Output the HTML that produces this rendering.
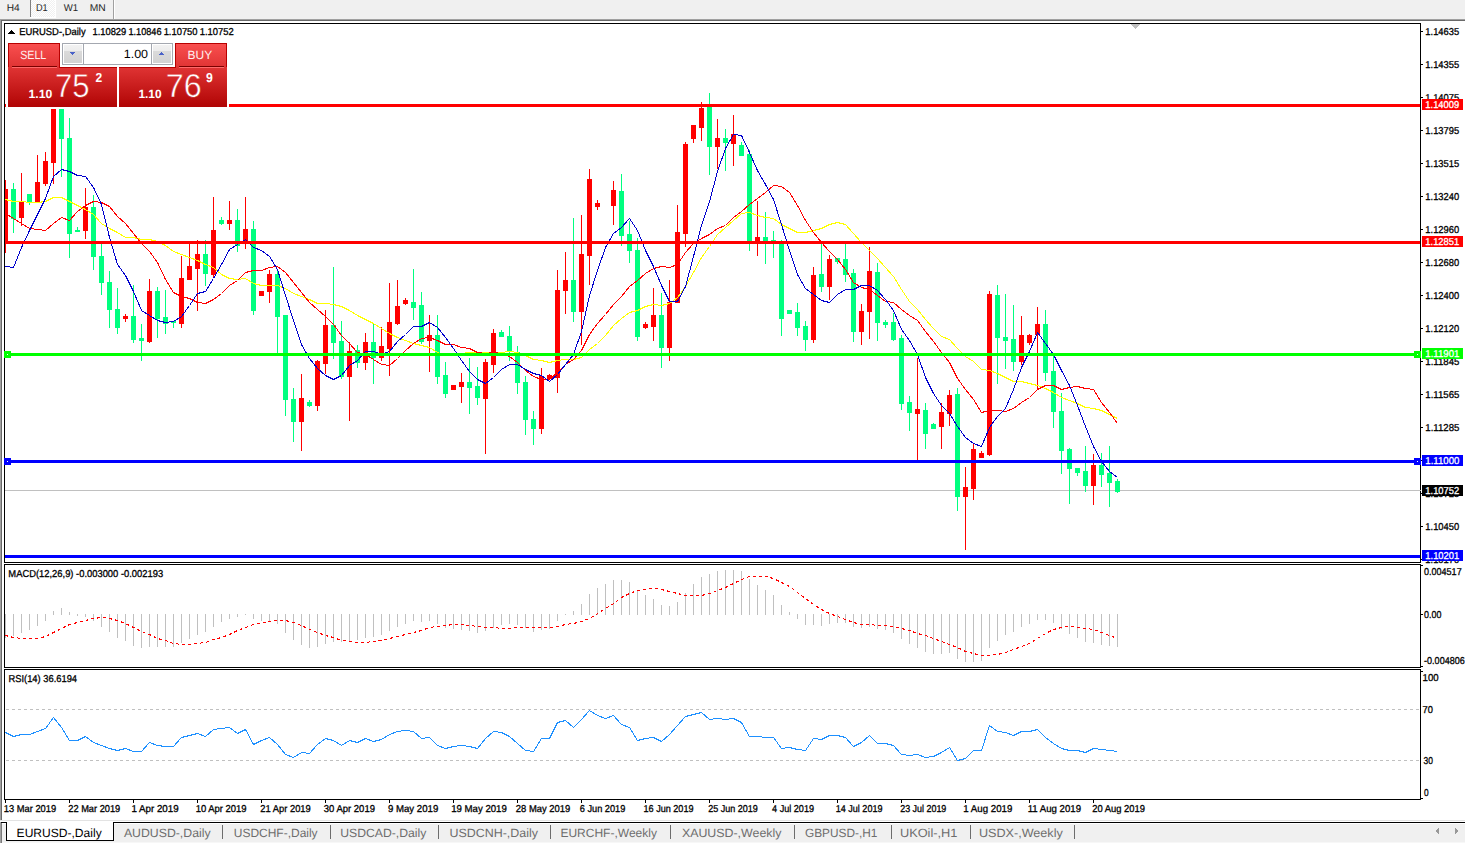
<!DOCTYPE html>
<html><head><meta charset="utf-8"><title>EURUSD-,Daily</title>
<style>html,body{margin:0;padding:0;background:#f0f0f0;overflow:hidden}svg{display:block}text{font-family:"Liberation Sans", sans-serif;text-rendering:geometricPrecision}</style>
</head><body>
<svg width="1465" height="843" viewBox="0 0 1465 843" shape-rendering="crispEdges">
<defs>
<pattern id="chk" width="2" height="2" patternUnits="userSpaceOnUse"><rect width="2" height="2" fill="#f0f0f0"/><rect width="1" height="1" fill="#fff"/><rect x="1" y="1" width="1" height="1" fill="#fff"/></pattern>
<linearGradient id="gLow" x1="0" y1="0" x2="0" y2="1"><stop offset="0" stop-color="#e03434"/><stop offset="1" stop-color="#b00404"/></linearGradient>
<linearGradient id="gLowU" gradientUnits="userSpaceOnUse" x1="0" y1="67" x2="0" y2="107"><stop offset="0" stop-color="#e03434"/><stop offset="1" stop-color="#b00404"/></linearGradient>
<linearGradient id="gUp" x1="0" y1="0" x2="0" y2="1"><stop offset="0" stop-color="#fa5050"/><stop offset="1" stop-color="#e03434"/></linearGradient>
<linearGradient id="gBtn" x1="0" y1="0" x2="0" y2="1"><stop offset="0" stop-color="#f2f2f2"/><stop offset="0.35" stop-color="#ececec"/><stop offset="0.36" stop-color="#dadada"/><stop offset="1" stop-color="#d2d2d2"/></linearGradient>
<clipPath id="cmain"><rect x="5" y="24" width="1415" height="538"/></clipPath>
<clipPath id="cmacd"><rect x="5" y="565" width="1415" height="102"/></clipPath>
<clipPath id="crsi"><rect x="5" y="670" width="1415" height="129"/></clipPath>
</defs>
<rect x="0" y="0" width="1465" height="843" fill="#f0f0f0"/>
<rect x="31" y="0" width="24" height="17" fill="url(#chk)"/>
<rect x="30" y="0" width="1" height="17" fill="#808080"/>
<rect x="55" y="0" width="1" height="18" fill="#ffffff"/>
<rect x="30" y="17" width="26" height="1" fill="#ffffff"/>
<rect x="113" y="0" width="1" height="19" fill="#a0a0a0"/>
<rect x="114" y="0" width="1" height="19" fill="#ffffff"/>
<rect x="0" y="19" width="1465" height="1" fill="#a0a0a0"/>
<rect x="1" y="20" width="1464" height="1" fill="#696969"/>
<rect x="0" y="19" width="1" height="801" fill="#a0a0a0"/>
<rect x="1" y="20" width="1" height="800" fill="#696969"/>
<rect x="2" y="21" width="1463" height="799" fill="#ffffff"/>
<rect x="0" y="820" width="1465" height="1" fill="#e3e3e3"/>
<rect x="0" y="821" width="1465" height="1" fill="#ffffff"/>
<rect x="0" y="822" width="1465" height="1" fill="#000000"/>
<rect x="0" y="823" width="1465" height="1" fill="#ffffff"/>
<rect x="0" y="824" width="1465" height="18" fill="#f0f0f0"/>
<rect x="0" y="842" width="1465" height="1" fill="#f7f7f7"/>
<rect x="0" y="822" width="1" height="21" fill="#a0a0a0"/>
<rect x="1" y="823" width="1" height="20" fill="#7a7a7a"/>
<text x="6.78" y="11" font-size="10" fill="#262626" textLength="13.01" lengthAdjust="spacingAndGlyphs">H4</text>
<text x="35.98" y="11" font-size="10" fill="#262626" textLength="11.73" lengthAdjust="spacingAndGlyphs">D1</text>
<text x="63.80" y="11" font-size="10" fill="#262626" textLength="14.40" lengthAdjust="spacingAndGlyphs">W1</text>
<text x="89.77" y="11" font-size="10" fill="#262626" textLength="16.01" lengthAdjust="spacingAndGlyphs">MN</text>
<rect x="4" y="23" width="1417" height="1" fill="#000"/>
<rect x="4" y="562" width="1417" height="1" fill="#000"/>
<rect x="4" y="23" width="1" height="540" fill="#000"/>
<rect x="1420" y="23" width="1" height="540" fill="#000"/>
<rect x="4" y="564" width="1417" height="1" fill="#000"/>
<rect x="4" y="667" width="1417" height="1" fill="#000"/>
<rect x="4" y="564" width="1" height="104" fill="#000"/>
<rect x="1420" y="564" width="1" height="104" fill="#000"/>
<rect x="4" y="669" width="1417" height="1" fill="#000"/>
<rect x="4" y="799" width="1417" height="1" fill="#000"/>
<rect x="4" y="669" width="1" height="131" fill="#000"/>
<rect x="1420" y="669" width="1" height="131" fill="#000"/>
<rect x="1131" y="24" width="9" height="1" fill="#c0c0c0"/>
<rect x="1132" y="25" width="7" height="1" fill="#c0c0c0"/>
<rect x="1133" y="26" width="5" height="1" fill="#c0c0c0"/>
<rect x="1134" y="27" width="3" height="1" fill="#c0c0c0"/>
<rect x="1135" y="28" width="1" height="1" fill="#c0c0c0"/>
<g clip-path="url(#cmain)">
<rect x="5" y="490" width="1415" height="1" fill="#c0c0c0"/>
<rect x="5" y="180" width="1" height="73" fill="#ff0000"/>
<rect x="3" y="189" width="5" height="53" fill="#ff0000"/>
<rect x="13" y="183" width="1" height="50" fill="#00ff7f"/>
<rect x="11" y="189" width="5" height="30" fill="#00ff7f"/>
<rect x="21" y="173" width="1" height="53" fill="#ff0000"/>
<rect x="19" y="202" width="5" height="16" fill="#ff0000"/>
<rect x="29" y="194" width="1" height="11" fill="#00ff7f"/>
<rect x="27" y="194" width="5" height="9" fill="#00ff7f"/>
<rect x="37" y="155" width="1" height="48" fill="#ff0000"/>
<rect x="35" y="182" width="5" height="21" fill="#ff0000"/>
<rect x="45" y="152" width="1" height="34" fill="#ff0000"/>
<rect x="43" y="161" width="5" height="23" fill="#ff0000"/>
<rect x="53" y="82" width="1" height="102" fill="#ff0000"/>
<rect x="51" y="86" width="5" height="77" fill="#ff0000"/>
<rect x="61" y="49" width="1" height="128" fill="#00ff7f"/>
<rect x="59" y="86" width="5" height="53" fill="#00ff7f"/>
<rect x="69" y="118" width="1" height="140" fill="#00ff7f"/>
<rect x="67" y="138" width="5" height="96" fill="#00ff7f"/>
<rect x="77" y="227" width="1" height="5" fill="#00ff7f"/>
<rect x="75" y="230" width="5" height="2" fill="#00ff7f"/>
<rect x="85" y="188" width="1" height="51" fill="#ff0000"/>
<rect x="83" y="207" width="5" height="24" fill="#ff0000"/>
<rect x="93" y="195" width="1" height="75" fill="#00ff7f"/>
<rect x="91" y="207" width="5" height="50" fill="#00ff7f"/>
<rect x="101" y="243" width="1" height="52" fill="#00ff7f"/>
<rect x="99" y="256" width="5" height="27" fill="#00ff7f"/>
<rect x="109" y="271" width="1" height="57" fill="#00ff7f"/>
<rect x="107" y="282" width="5" height="28" fill="#00ff7f"/>
<rect x="117" y="288" width="1" height="46" fill="#00ff7f"/>
<rect x="115" y="309" width="5" height="19" fill="#00ff7f"/>
<rect x="125" y="314" width="1" height="8" fill="#ff0000"/>
<rect x="123" y="316" width="5" height="3" fill="#ff0000"/>
<rect x="133" y="285" width="1" height="58" fill="#00ff7f"/>
<rect x="131" y="316" width="5" height="24" fill="#00ff7f"/>
<rect x="141" y="324" width="1" height="37" fill="#00ff7f"/>
<rect x="139" y="338" width="5" height="3" fill="#00ff7f"/>
<rect x="149" y="279" width="1" height="64" fill="#ff0000"/>
<rect x="147" y="291" width="5" height="51" fill="#ff0000"/>
<rect x="157" y="287" width="1" height="51" fill="#00ff7f"/>
<rect x="155" y="291" width="5" height="28" fill="#00ff7f"/>
<rect x="165" y="290" width="1" height="44" fill="#00ff7f"/>
<rect x="163" y="317" width="5" height="7" fill="#00ff7f"/>
<rect x="173" y="321" width="1" height="7" fill="#00ff7f"/>
<rect x="171" y="321" width="5" height="2" fill="#00ff7f"/>
<rect x="181" y="256" width="1" height="72" fill="#ff0000"/>
<rect x="179" y="278" width="5" height="46" fill="#ff0000"/>
<rect x="189" y="243" width="1" height="37" fill="#ff0000"/>
<rect x="187" y="266" width="5" height="14" fill="#ff0000"/>
<rect x="197" y="240" width="1" height="71" fill="#ff0000"/>
<rect x="195" y="254" width="5" height="15" fill="#ff0000"/>
<rect x="205" y="240" width="1" height="46" fill="#00ff7f"/>
<rect x="203" y="254" width="5" height="20" fill="#00ff7f"/>
<rect x="213" y="197" width="1" height="80" fill="#ff0000"/>
<rect x="211" y="230" width="5" height="45" fill="#ff0000"/>
<rect x="221" y="217" width="1" height="8" fill="#00ff7f"/>
<rect x="219" y="220" width="5" height="4" fill="#00ff7f"/>
<rect x="229" y="201" width="1" height="29" fill="#ff0000"/>
<rect x="227" y="220" width="5" height="4" fill="#ff0000"/>
<rect x="237" y="209" width="1" height="43" fill="#00ff7f"/>
<rect x="235" y="220" width="5" height="26" fill="#00ff7f"/>
<rect x="245" y="197" width="1" height="52" fill="#ff0000"/>
<rect x="243" y="229" width="5" height="13" fill="#ff0000"/>
<rect x="253" y="221" width="1" height="94" fill="#00ff7f"/>
<rect x="251" y="229" width="5" height="82" fill="#00ff7f"/>
<rect x="261" y="291" width="1" height="5" fill="#ff0000"/>
<rect x="259" y="291" width="5" height="5" fill="#ff0000"/>
<rect x="269" y="270" width="1" height="33" fill="#ff0000"/>
<rect x="267" y="274" width="5" height="18" fill="#ff0000"/>
<rect x="277" y="270" width="1" height="83" fill="#00ff7f"/>
<rect x="275" y="274" width="5" height="43" fill="#00ff7f"/>
<rect x="285" y="315" width="1" height="101" fill="#00ff7f"/>
<rect x="283" y="315" width="5" height="85" fill="#00ff7f"/>
<rect x="293" y="388" width="1" height="54" fill="#00ff7f"/>
<rect x="291" y="399" width="5" height="23" fill="#00ff7f"/>
<rect x="301" y="374" width="1" height="77" fill="#ff0000"/>
<rect x="299" y="398" width="5" height="24" fill="#ff0000"/>
<rect x="309" y="400" width="1" height="7" fill="#00ff7f"/>
<rect x="307" y="402" width="5" height="4" fill="#00ff7f"/>
<rect x="317" y="360" width="1" height="51" fill="#ff0000"/>
<rect x="315" y="361" width="5" height="45" fill="#ff0000"/>
<rect x="325" y="310" width="1" height="64" fill="#ff0000"/>
<rect x="323" y="325" width="5" height="39" fill="#ff0000"/>
<rect x="333" y="267" width="1" height="92" fill="#00ff7f"/>
<rect x="331" y="325" width="5" height="18" fill="#00ff7f"/>
<rect x="341" y="321" width="1" height="58" fill="#00ff7f"/>
<rect x="339" y="341" width="5" height="36" fill="#00ff7f"/>
<rect x="349" y="342" width="1" height="79" fill="#ff0000"/>
<rect x="347" y="351" width="5" height="26" fill="#ff0000"/>
<rect x="357" y="345" width="1" height="23" fill="#00ff7f"/>
<rect x="355" y="350" width="5" height="13" fill="#00ff7f"/>
<rect x="365" y="333" width="1" height="37" fill="#ff0000"/>
<rect x="363" y="342" width="5" height="21" fill="#ff0000"/>
<rect x="373" y="323" width="1" height="61" fill="#00ff7f"/>
<rect x="371" y="342" width="5" height="16" fill="#00ff7f"/>
<rect x="381" y="327" width="1" height="34" fill="#ff0000"/>
<rect x="379" y="346" width="5" height="12" fill="#ff0000"/>
<rect x="389" y="283" width="1" height="93" fill="#ff0000"/>
<rect x="387" y="322" width="5" height="27" fill="#ff0000"/>
<rect x="397" y="280" width="1" height="45" fill="#ff0000"/>
<rect x="395" y="306" width="5" height="18" fill="#ff0000"/>
<rect x="405" y="298" width="1" height="7" fill="#ff0000"/>
<rect x="403" y="300" width="5" height="4" fill="#ff0000"/>
<rect x="413" y="269" width="1" height="51" fill="#00ff7f"/>
<rect x="411" y="302" width="5" height="6" fill="#00ff7f"/>
<rect x="421" y="292" width="1" height="52" fill="#00ff7f"/>
<rect x="419" y="305" width="5" height="37" fill="#00ff7f"/>
<rect x="429" y="315" width="1" height="57" fill="#ff0000"/>
<rect x="427" y="335" width="5" height="6" fill="#ff0000"/>
<rect x="437" y="315" width="1" height="69" fill="#00ff7f"/>
<rect x="435" y="335" width="5" height="42" fill="#00ff7f"/>
<rect x="445" y="362" width="1" height="36" fill="#00ff7f"/>
<rect x="443" y="375" width="5" height="19" fill="#00ff7f"/>
<rect x="453" y="385" width="1" height="5" fill="#ff0000"/>
<rect x="451" y="385" width="5" height="5" fill="#ff0000"/>
<rect x="461" y="373" width="1" height="30" fill="#ff0000"/>
<rect x="459" y="382" width="5" height="5" fill="#ff0000"/>
<rect x="469" y="358" width="1" height="56" fill="#00ff7f"/>
<rect x="467" y="382" width="5" height="6" fill="#00ff7f"/>
<rect x="477" y="367" width="1" height="38" fill="#00ff7f"/>
<rect x="475" y="386" width="5" height="12" fill="#00ff7f"/>
<rect x="485" y="359" width="1" height="95" fill="#ff0000"/>
<rect x="483" y="362" width="5" height="37" fill="#ff0000"/>
<rect x="493" y="329" width="1" height="44" fill="#ff0000"/>
<rect x="491" y="333" width="5" height="32" fill="#ff0000"/>
<rect x="501" y="330" width="1" height="7" fill="#00ff7f"/>
<rect x="499" y="332" width="5" height="5" fill="#00ff7f"/>
<rect x="509" y="326" width="1" height="35" fill="#00ff7f"/>
<rect x="507" y="336" width="5" height="16" fill="#00ff7f"/>
<rect x="517" y="346" width="1" height="48" fill="#00ff7f"/>
<rect x="515" y="352" width="5" height="31" fill="#00ff7f"/>
<rect x="525" y="376" width="1" height="59" fill="#00ff7f"/>
<rect x="523" y="382" width="5" height="38" fill="#00ff7f"/>
<rect x="533" y="411" width="1" height="34" fill="#00ff7f"/>
<rect x="531" y="419" width="5" height="10" fill="#00ff7f"/>
<rect x="541" y="368" width="1" height="66" fill="#ff0000"/>
<rect x="539" y="376" width="5" height="53" fill="#ff0000"/>
<rect x="549" y="374" width="1" height="6" fill="#ff0000"/>
<rect x="547" y="375" width="5" height="4" fill="#ff0000"/>
<rect x="557" y="270" width="1" height="123" fill="#ff0000"/>
<rect x="555" y="290" width="5" height="88" fill="#ff0000"/>
<rect x="565" y="252" width="1" height="62" fill="#ff0000"/>
<rect x="563" y="280" width="5" height="11" fill="#ff0000"/>
<rect x="573" y="218" width="1" height="104" fill="#00ff7f"/>
<rect x="571" y="280" width="5" height="32" fill="#00ff7f"/>
<rect x="581" y="215" width="1" height="130" fill="#ff0000"/>
<rect x="579" y="254" width="5" height="58" fill="#ff0000"/>
<rect x="589" y="169" width="1" height="116" fill="#ff0000"/>
<rect x="587" y="179" width="5" height="77" fill="#ff0000"/>
<rect x="597" y="200" width="1" height="10" fill="#ff0000"/>
<rect x="595" y="203" width="5" height="4" fill="#ff0000"/>
<rect x="613" y="181" width="1" height="44" fill="#ff0000"/>
<rect x="611" y="190" width="5" height="16" fill="#ff0000"/>
<rect x="621" y="174" width="1" height="72" fill="#00ff7f"/>
<rect x="619" y="191" width="5" height="45" fill="#00ff7f"/>
<rect x="629" y="221" width="1" height="42" fill="#00ff7f"/>
<rect x="627" y="234" width="5" height="17" fill="#00ff7f"/>
<rect x="637" y="238" width="1" height="103" fill="#00ff7f"/>
<rect x="635" y="250" width="5" height="87" fill="#00ff7f"/>
<rect x="645" y="322" width="1" height="7" fill="#ff0000"/>
<rect x="643" y="324" width="5" height="4" fill="#ff0000"/>
<rect x="653" y="288" width="1" height="53" fill="#ff0000"/>
<rect x="651" y="315" width="5" height="12" fill="#ff0000"/>
<rect x="661" y="293" width="1" height="75" fill="#00ff7f"/>
<rect x="659" y="315" width="5" height="33" fill="#00ff7f"/>
<rect x="669" y="280" width="1" height="81" fill="#ff0000"/>
<rect x="667" y="302" width="5" height="46" fill="#ff0000"/>
<rect x="677" y="205" width="1" height="98" fill="#ff0000"/>
<rect x="675" y="232" width="5" height="71" fill="#ff0000"/>
<rect x="685" y="142" width="1" height="105" fill="#ff0000"/>
<rect x="683" y="144" width="5" height="90" fill="#ff0000"/>
<rect x="693" y="125" width="1" height="18" fill="#ff0000"/>
<rect x="691" y="125" width="5" height="14" fill="#ff0000"/>
<rect x="701" y="102" width="1" height="39" fill="#ff0000"/>
<rect x="699" y="108" width="5" height="20" fill="#ff0000"/>
<rect x="709" y="93" width="1" height="82" fill="#00ff7f"/>
<rect x="707" y="107" width="5" height="40" fill="#00ff7f"/>
<rect x="717" y="119" width="1" height="50" fill="#ff0000"/>
<rect x="715" y="138" width="5" height="9" fill="#ff0000"/>
<rect x="725" y="129" width="1" height="42" fill="#00ff7f"/>
<rect x="723" y="138" width="5" height="5" fill="#00ff7f"/>
<rect x="733" y="115" width="1" height="51" fill="#ff0000"/>
<rect x="731" y="134" width="5" height="10" fill="#ff0000"/>
<rect x="741" y="142" width="1" height="14" fill="#00ff7f"/>
<rect x="739" y="145" width="5" height="11" fill="#00ff7f"/>
<rect x="749" y="150" width="1" height="101" fill="#00ff7f"/>
<rect x="747" y="154" width="5" height="87" fill="#00ff7f"/>
<rect x="757" y="201" width="1" height="55" fill="#ff0000"/>
<rect x="755" y="237" width="5" height="6" fill="#ff0000"/>
<rect x="765" y="212" width="1" height="52" fill="#00ff7f"/>
<rect x="763" y="237" width="5" height="6" fill="#00ff7f"/>
<rect x="773" y="231" width="1" height="27" fill="#00ff7f"/>
<rect x="771" y="240" width="5" height="4" fill="#00ff7f"/>
<rect x="781" y="240" width="1" height="96" fill="#00ff7f"/>
<rect x="779" y="242" width="5" height="77" fill="#00ff7f"/>
<rect x="789" y="310" width="1" height="4" fill="#00ff7f"/>
<rect x="787" y="310" width="5" height="4" fill="#00ff7f"/>
<rect x="797" y="303" width="1" height="33" fill="#00ff7f"/>
<rect x="795" y="312" width="5" height="16" fill="#00ff7f"/>
<rect x="805" y="321" width="1" height="30" fill="#00ff7f"/>
<rect x="803" y="326" width="5" height="14" fill="#00ff7f"/>
<rect x="813" y="267" width="1" height="76" fill="#ff0000"/>
<rect x="811" y="275" width="5" height="65" fill="#ff0000"/>
<rect x="821" y="243" width="1" height="49" fill="#00ff7f"/>
<rect x="819" y="274" width="5" height="13" fill="#00ff7f"/>
<rect x="829" y="255" width="1" height="45" fill="#ff0000"/>
<rect x="827" y="259" width="5" height="28" fill="#ff0000"/>
<rect x="837" y="258" width="1" height="6" fill="#00ff7f"/>
<rect x="835" y="258" width="5" height="4" fill="#00ff7f"/>
<rect x="845" y="243" width="1" height="39" fill="#00ff7f"/>
<rect x="843" y="259" width="5" height="16" fill="#00ff7f"/>
<rect x="853" y="269" width="1" height="73" fill="#00ff7f"/>
<rect x="851" y="273" width="5" height="59" fill="#00ff7f"/>
<rect x="861" y="304" width="1" height="41" fill="#ff0000"/>
<rect x="859" y="311" width="5" height="21" fill="#ff0000"/>
<rect x="869" y="247" width="1" height="92" fill="#ff0000"/>
<rect x="867" y="271" width="5" height="41" fill="#ff0000"/>
<rect x="877" y="263" width="1" height="78" fill="#00ff7f"/>
<rect x="875" y="272" width="5" height="51" fill="#00ff7f"/>
<rect x="885" y="320" width="1" height="8" fill="#00ff7f"/>
<rect x="883" y="322" width="5" height="3" fill="#00ff7f"/>
<rect x="893" y="313" width="1" height="28" fill="#00ff7f"/>
<rect x="891" y="322" width="5" height="18" fill="#00ff7f"/>
<rect x="901" y="335" width="1" height="75" fill="#00ff7f"/>
<rect x="899" y="338" width="5" height="66" fill="#00ff7f"/>
<rect x="909" y="396" width="1" height="35" fill="#00ff7f"/>
<rect x="907" y="402" width="5" height="11" fill="#00ff7f"/>
<rect x="917" y="358" width="1" height="103" fill="#ff0000"/>
<rect x="915" y="409" width="5" height="5" fill="#ff0000"/>
<rect x="925" y="403" width="1" height="46" fill="#00ff7f"/>
<rect x="923" y="410" width="5" height="24" fill="#00ff7f"/>
<rect x="933" y="423" width="1" height="6" fill="#00ff7f"/>
<rect x="931" y="424" width="5" height="5" fill="#00ff7f"/>
<rect x="941" y="403" width="1" height="46" fill="#ff0000"/>
<rect x="939" y="412" width="5" height="15" fill="#ff0000"/>
<rect x="949" y="390" width="1" height="36" fill="#ff0000"/>
<rect x="947" y="395" width="5" height="19" fill="#ff0000"/>
<rect x="957" y="388" width="1" height="123" fill="#00ff7f"/>
<rect x="955" y="394" width="5" height="103" fill="#00ff7f"/>
<rect x="965" y="467" width="1" height="83" fill="#ff0000"/>
<rect x="963" y="487" width="5" height="10" fill="#ff0000"/>
<rect x="973" y="443" width="1" height="57" fill="#ff0000"/>
<rect x="971" y="449" width="5" height="40" fill="#ff0000"/>
<rect x="981" y="451" width="1" height="7" fill="#ff0000"/>
<rect x="979" y="453" width="5" height="5" fill="#ff0000"/>
<rect x="989" y="291" width="1" height="165" fill="#ff0000"/>
<rect x="987" y="294" width="5" height="161" fill="#ff0000"/>
<rect x="997" y="285" width="1" height="99" fill="#00ff7f"/>
<rect x="995" y="295" width="5" height="43" fill="#00ff7f"/>
<rect x="1005" y="294" width="1" height="75" fill="#00ff7f"/>
<rect x="1003" y="337" width="5" height="4" fill="#00ff7f"/>
<rect x="1013" y="305" width="1" height="66" fill="#00ff7f"/>
<rect x="1011" y="339" width="5" height="23" fill="#00ff7f"/>
<rect x="1021" y="316" width="1" height="49" fill="#ff0000"/>
<rect x="1019" y="335" width="5" height="27" fill="#ff0000"/>
<rect x="1029" y="334" width="1" height="11" fill="#ff0000"/>
<rect x="1027" y="335" width="5" height="8" fill="#ff0000"/>
<rect x="1037" y="307" width="1" height="83" fill="#ff0000"/>
<rect x="1035" y="324" width="5" height="11" fill="#ff0000"/>
<rect x="1045" y="310" width="1" height="71" fill="#00ff7f"/>
<rect x="1043" y="324" width="5" height="49" fill="#00ff7f"/>
<rect x="1053" y="356" width="1" height="72" fill="#00ff7f"/>
<rect x="1051" y="371" width="5" height="41" fill="#00ff7f"/>
<rect x="1061" y="393" width="1" height="81" fill="#00ff7f"/>
<rect x="1059" y="411" width="5" height="40" fill="#00ff7f"/>
<rect x="1069" y="448" width="1" height="56" fill="#00ff7f"/>
<rect x="1067" y="449" width="5" height="20" fill="#00ff7f"/>
<rect x="1077" y="468" width="1" height="8" fill="#00ff7f"/>
<rect x="1075" y="468" width="5" height="5" fill="#00ff7f"/>
<rect x="1085" y="446" width="1" height="46" fill="#00ff7f"/>
<rect x="1083" y="471" width="5" height="15" fill="#00ff7f"/>
<rect x="1093" y="454" width="1" height="51" fill="#ff0000"/>
<rect x="1091" y="465" width="5" height="21" fill="#ff0000"/>
<rect x="1101" y="453" width="1" height="34" fill="#00ff7f"/>
<rect x="1099" y="465" width="5" height="10" fill="#00ff7f"/>
<rect x="1109" y="446" width="1" height="61" fill="#00ff7f"/>
<rect x="1107" y="473" width="5" height="10" fill="#00ff7f"/>
<rect x="1117" y="479" width="1" height="14" fill="#00ff7f"/>
<rect x="1115" y="481" width="5" height="11" fill="#00ff7f"/>
<polyline points="5.5,199.5 13.5,201.5 21.5,201.5 29.5,202.5 37.5,202.5 45.5,201.5 53.5,197.5 61.5,197.5 69.5,201.5 77.5,205.5 85.5,209.5 93.5,214.5 101.5,223.5 109.5,228.5 117.5,232.5 125.5,237.5 133.5,237.5 141.5,239.5 149.5,239.5 157.5,241.5 165.5,245.5 173.5,251.5 181.5,254.5 189.5,257.5 197.5,260.5 205.5,264.5 213.5,267.5 221.5,274.5 229.5,278.5 237.5,279.5 245.5,278.5 253.5,283.5 261.5,285.5 269.5,285.5 277.5,285.5 285.5,288.5 293.5,293.5 301.5,296.5 309.5,299.5 317.5,303.5 325.5,303.5 333.5,304.5 341.5,306.5 349.5,310.5 357.5,315.5 365.5,319.5 373.5,323.5 381.5,328.5 389.5,333.5 397.5,337.5 405.5,340.5 413.5,343.5 421.5,345.5 429.5,347.5 437.5,352.5 445.5,355.5 453.5,355.5 461.5,353.5 469.5,352.5 477.5,352.5 485.5,352.5 493.5,352.5 501.5,352.5 509.5,351.5 517.5,352.5 525.5,355.5 533.5,359.5 541.5,360.5 549.5,362.5 557.5,360.5 565.5,359.5 573.5,359.5 581.5,357.5 589.5,349.5 597.5,343.5 605.5,335.5 613.5,325.5 621.5,318.5 629.5,312.5 637.5,310.5 645.5,306.5 653.5,304.5 661.5,305.5 669.5,303.5 677.5,297.5 685.5,286.5 693.5,272.5 701.5,257.5 709.5,246.5 717.5,234.5 725.5,227.5 733.5,220.5 741.5,213.5 749.5,212.5 757.5,215.5 765.5,217.5 773.5,218.5 781.5,224.5 789.5,228.5 797.5,232.5 805.5,232.5 813.5,230.5 821.5,228.5 829.5,224.5 837.5,222.5 845.5,224.5 853.5,233.5 861.5,242.5 869.5,250.5 877.5,258.5 885.5,267.5 893.5,276.5 901.5,289.5 909.5,301.5 917.5,309.5 925.5,319.5 933.5,328.5 941.5,336.5 949.5,339.5 957.5,348.5 965.5,356.5 973.5,361.5 981.5,369.5 989.5,370.5 997.5,373.5 1005.5,377.5 1013.5,381.5 1021.5,381.5 1029.5,383.5 1037.5,385.5 1045.5,388.5 1053.5,392.5 1061.5,397.5 1069.5,400.5 1077.5,403.5 1085.5,407.5 1093.5,408.5 1101.5,410.5 1109.5,414.5 1117.5,418.5" fill="none" stroke="#ffff00" stroke-width="1"/>
<polyline points="5.5,213.5 13.5,218.5 21.5,223.5 29.5,228.5 37.5,229.5 45.5,230.5 53.5,223.5 61.5,217.5 69.5,220.5 77.5,211.5 85.5,205.5 93.5,201.5 101.5,202.5 109.5,206.5 117.5,216.5 125.5,223.5 133.5,233.5 141.5,243.5 149.5,251.5 157.5,262.5 165.5,279.5 173.5,292.5 181.5,296.5 189.5,298.5 197.5,302.5 205.5,303.5 213.5,299.5 221.5,293.5 229.5,285.5 237.5,280.5 245.5,272.5 253.5,270.5 261.5,270.5 269.5,267.5 277.5,266.5 285.5,272.5 293.5,282.5 301.5,292.5 309.5,302.5 317.5,309.5 325.5,316.5 333.5,324.5 341.5,335.5 349.5,343.5 357.5,352.5 365.5,354.5 373.5,359.5 381.5,364.5 389.5,365.5 397.5,358.5 405.5,350.5 413.5,343.5 421.5,338.5 429.5,337.5 437.5,340.5 445.5,344.5 453.5,344.5 461.5,347.5 469.5,348.5 477.5,352.5 485.5,353.5 493.5,352.5 501.5,353.5 509.5,356.5 517.5,362.5 525.5,370.5 533.5,376.5 541.5,379.5 549.5,379.5 557.5,372.5 565.5,364.5 573.5,359.5 581.5,350.5 589.5,334.5 597.5,323.5 605.5,314.5 613.5,304.5 621.5,296.5 629.5,286.5 637.5,280.5 645.5,273.5 653.5,268.5 661.5,266.5 669.5,267.5 677.5,264.5 685.5,252.5 693.5,243.5 701.5,238.5 709.5,234.5 717.5,228.5 725.5,225.5 733.5,217.5 741.5,211.5 749.5,204.5 757.5,198.5 765.5,192.5 773.5,185.5 781.5,186.5 789.5,192.5 797.5,205.5 805.5,220.5 813.5,232.5 821.5,242.5 829.5,251.5 837.5,259.5 845.5,269.5 853.5,282.5 861.5,287.5 869.5,289.5 877.5,295.5 885.5,301.5 893.5,302.5 901.5,309.5 909.5,315.5 917.5,320.5 925.5,331.5 933.5,341.5 941.5,352.5 949.5,362.5 957.5,378.5 965.5,389.5 973.5,399.5 981.5,412.5 989.5,410.5 997.5,410.5 1005.5,411.5 1013.5,408.5 1021.5,402.5 1029.5,397.5 1037.5,389.5 1045.5,385.5 1053.5,385.5 1061.5,389.5 1069.5,387.5 1077.5,386.5 1085.5,388.5 1093.5,389.5 1101.5,402.5 1109.5,412.5 1117.5,423.5" fill="none" stroke="#ff0000" stroke-width="1"/>
<polyline points="5.5,266.5 13.5,267.5 21.5,247.5 29.5,230.5 37.5,214.5 45.5,198.5 53.5,176.5 61.5,169.5 69.5,171.5 77.5,175.5 85.5,176.5 93.5,187.5 101.5,204.5 109.5,237.5 117.5,264.5 125.5,275.5 133.5,291.5 141.5,310.5 149.5,315.5 157.5,320.5 165.5,322.5 173.5,321.5 181.5,316.5 189.5,305.5 197.5,293.5 205.5,291.5 213.5,278.5 221.5,264.5 229.5,249.5 237.5,244.5 245.5,239.5 253.5,247.5 261.5,250.5 269.5,256.5 277.5,269.5 285.5,295.5 293.5,320.5 301.5,344.5 309.5,358.5 317.5,368.5 325.5,375.5 333.5,379.5 341.5,375.5 349.5,365.5 357.5,360.5 365.5,351.5 373.5,351.5 381.5,354.5 389.5,351.5 397.5,341.5 405.5,334.5 413.5,326.5 421.5,326.5 429.5,322.5 437.5,327.5 445.5,337.5 453.5,348.5 461.5,360.5 469.5,371.5 477.5,379.5 485.5,383.5 493.5,377.5 501.5,369.5 509.5,364.5 517.5,364.5 525.5,369.5 533.5,373.5 541.5,375.5 549.5,381.5 557.5,374.5 565.5,364.5 573.5,354.5 581.5,331.5 589.5,295.5 597.5,270.5 605.5,247.5 613.5,233.5 621.5,227.5 629.5,218.5 637.5,230.5 645.5,250.5 653.5,266.5 661.5,285.5 669.5,301.5 677.5,301.5 685.5,286.5 693.5,256.5 701.5,225.5 709.5,201.5 717.5,171.5 725.5,148.5 733.5,134.5 741.5,135.5 749.5,152.5 757.5,170.5 765.5,184.5 773.5,199.5 781.5,224.5 789.5,250.5 797.5,274.5 805.5,288.5 813.5,294.5 821.5,300.5 829.5,302.5 837.5,294.5 845.5,289.5 853.5,289.5 861.5,285.5 869.5,285.5 877.5,290.5 885.5,299.5 893.5,310.5 901.5,329.5 909.5,340.5 917.5,354.5 925.5,377.5 933.5,393.5 941.5,405.5 949.5,413.5 957.5,426.5 965.5,437.5 973.5,443.5 981.5,446.5 989.5,427.5 997.5,416.5 1005.5,408.5 1013.5,389.5 1021.5,367.5 1029.5,351.5 1037.5,332.5 1045.5,343.5 1053.5,354.5 1061.5,370.5 1069.5,385.5 1077.5,405.5 1085.5,426.5 1093.5,446.5 1101.5,461.5 1109.5,471.5 1117.5,477.5" fill="none" stroke="#0000cd" stroke-width="1"/>
<rect x="5" y="104" width="1415" height="3" fill="#ff0000"/>
<rect x="5" y="241" width="1415" height="3" fill="#ff0000"/>
<rect x="5" y="353" width="1415" height="3" fill="#00ff00"/>
<rect x="5" y="460" width="1415" height="3" fill="#0000ff"/>
<rect x="5" y="555" width="1415" height="3" fill="#0000ff"/>
</g>
<rect x="1420" y="490" width="1" height="1" fill="#c0c0c0"/>
<rect x="4" y="351" width="7" height="7" fill="#00ff00"/>
<rect x="7" y="354" width="1" height="1" fill="#ffffff"/>
<rect x="1414" y="351" width="7" height="7" fill="#00ff00"/>
<rect x="1417" y="354" width="1" height="1" fill="#ffffff"/>
<rect x="4" y="458" width="7" height="7" fill="#0000ff"/>
<rect x="7" y="461" width="1" height="1" fill="#ffffff"/>
<rect x="1414" y="458" width="7" height="7" fill="#0000ff"/>
<rect x="1417" y="461" width="1" height="1" fill="#ffffff"/>
<rect x="1421" y="31" width="2" height="1" fill="#000"/>
<text x="1425.37" y="35" font-size="10" fill="#000" textLength="33.78" lengthAdjust="spacingAndGlyphs" stroke="#000" stroke-width="0.3">1.14635</text>
<rect x="1421" y="64" width="2" height="1" fill="#000"/>
<text x="1425.37" y="68" font-size="10" fill="#000" textLength="33.78" lengthAdjust="spacingAndGlyphs" stroke="#000" stroke-width="0.3">1.14355</text>
<rect x="1421" y="97" width="2" height="1" fill="#000"/>
<text x="1425.37" y="101" font-size="10" fill="#000" textLength="33.78" lengthAdjust="spacingAndGlyphs" stroke="#000" stroke-width="0.3">1.14075</text>
<rect x="1421" y="130" width="2" height="1" fill="#000"/>
<text x="1425.37" y="134" font-size="10" fill="#000" textLength="33.78" lengthAdjust="spacingAndGlyphs" stroke="#000" stroke-width="0.3">1.13795</text>
<rect x="1421" y="163" width="2" height="1" fill="#000"/>
<text x="1425.37" y="167" font-size="10" fill="#000" textLength="33.78" lengthAdjust="spacingAndGlyphs" stroke="#000" stroke-width="0.3">1.13515</text>
<rect x="1421" y="196" width="2" height="1" fill="#000"/>
<text x="1425.37" y="200" font-size="10" fill="#000" textLength="33.78" lengthAdjust="spacingAndGlyphs" stroke="#000" stroke-width="0.3">1.13240</text>
<rect x="1421" y="229" width="2" height="1" fill="#000"/>
<text x="1425.37" y="233" font-size="10" fill="#000" textLength="33.78" lengthAdjust="spacingAndGlyphs" stroke="#000" stroke-width="0.3">1.12960</text>
<rect x="1421" y="262" width="2" height="1" fill="#000"/>
<text x="1425.37" y="266" font-size="10" fill="#000" textLength="33.78" lengthAdjust="spacingAndGlyphs" stroke="#000" stroke-width="0.3">1.12680</text>
<rect x="1421" y="295" width="2" height="1" fill="#000"/>
<text x="1425.37" y="299" font-size="10" fill="#000" textLength="33.78" lengthAdjust="spacingAndGlyphs" stroke="#000" stroke-width="0.3">1.12400</text>
<rect x="1421" y="328" width="2" height="1" fill="#000"/>
<text x="1425.37" y="332" font-size="10" fill="#000" textLength="33.78" lengthAdjust="spacingAndGlyphs" stroke="#000" stroke-width="0.3">1.12120</text>
<rect x="1421" y="361" width="2" height="1" fill="#000"/>
<text x="1425.34" y="365" font-size="10" fill="#000" textLength="34.05" lengthAdjust="spacingAndGlyphs" stroke="#000" stroke-width="0.3">1.11845</text>
<rect x="1421" y="394" width="2" height="1" fill="#000"/>
<text x="1425.34" y="398" font-size="10" fill="#000" textLength="34.05" lengthAdjust="spacingAndGlyphs" stroke="#000" stroke-width="0.3">1.11565</text>
<rect x="1421" y="427" width="2" height="1" fill="#000"/>
<text x="1425.34" y="431" font-size="10" fill="#000" textLength="34.05" lengthAdjust="spacingAndGlyphs" stroke="#000" stroke-width="0.3">1.11285</text>
<rect x="1421" y="460" width="2" height="1" fill="#000"/>
<text x="1425.34" y="464" font-size="10" fill="#000" textLength="34.05" lengthAdjust="spacingAndGlyphs" stroke="#000" stroke-width="0.3">1.11005</text>
<rect x="1421" y="493" width="2" height="1" fill="#000"/>
<text x="1425.37" y="497" font-size="10" fill="#000" textLength="33.78" lengthAdjust="spacingAndGlyphs" stroke="#000" stroke-width="0.3">1.10725</text>
<rect x="1421" y="526" width="2" height="1" fill="#000"/>
<text x="1425.37" y="530" font-size="10" fill="#000" textLength="33.78" lengthAdjust="spacingAndGlyphs" stroke="#000" stroke-width="0.3">1.10450</text>
<rect x="1421" y="559" width="2" height="1" fill="#000"/>
<text x="1425.37" y="563" font-size="10" fill="#000" textLength="33.78" lengthAdjust="spacingAndGlyphs" stroke="#000" stroke-width="0.3">1.10170</text>
<rect x="1422" y="99" width="41" height="11" fill="#ff0000"/>
<text x="1425.37" y="108" font-size="10" fill="#fff" textLength="33.78" lengthAdjust="spacingAndGlyphs" stroke="#fff" stroke-width="0.3">1.14009</text>
<rect x="1422" y="236" width="41" height="11" fill="#ff0000"/>
<text x="1425.37" y="245" font-size="10" fill="#fff" textLength="33.78" lengthAdjust="spacingAndGlyphs" stroke="#fff" stroke-width="0.3">1.12851</text>
<rect x="1422" y="348" width="41" height="11" fill="#00ff00"/>
<text x="1425.34" y="357" font-size="10" fill="#fff" textLength="34.05" lengthAdjust="spacingAndGlyphs" stroke="#fff" stroke-width="0.3">1.11901</text>
<rect x="1422" y="455" width="41" height="11" fill="#0000ff"/>
<text x="1425.34" y="464" font-size="10" fill="#fff" textLength="34.05" lengthAdjust="spacingAndGlyphs" stroke="#fff" stroke-width="0.3">1.11000</text>
<rect x="1422" y="485" width="41" height="11" fill="#000000"/>
<text x="1425.37" y="494" font-size="10" fill="#fff" textLength="33.78" lengthAdjust="spacingAndGlyphs" stroke="#fff" stroke-width="0.3">1.10752</text>
<rect x="1422" y="550" width="41" height="11" fill="#0000ff"/>
<text x="1425.37" y="559" font-size="10" fill="#fff" textLength="33.78" lengthAdjust="spacingAndGlyphs" stroke="#fff" stroke-width="0.3">1.10201</text>
<g clip-path="url(#cmacd)">
<rect x="5" y="614" width="1" height="24" fill="#c0c0c0"/>
<rect x="13" y="614" width="1" height="22" fill="#c0c0c0"/>
<rect x="21" y="614" width="1" height="19" fill="#c0c0c0"/>
<rect x="29" y="614" width="1" height="16" fill="#c0c0c0"/>
<rect x="37" y="614" width="1" height="12" fill="#c0c0c0"/>
<rect x="45" y="614" width="1" height="7" fill="#c0c0c0"/>
<rect x="53" y="611" width="1" height="4" fill="#c0c0c0"/>
<rect x="61" y="608" width="1" height="7" fill="#c0c0c0"/>
<rect x="69" y="612" width="1" height="3" fill="#c0c0c0"/>
<rect x="77" y="614" width="1" height="2" fill="#c0c0c0"/>
<rect x="85" y="614" width="1" height="3" fill="#c0c0c0"/>
<rect x="93" y="614" width="1" height="7" fill="#c0c0c0"/>
<rect x="101" y="614" width="1" height="13" fill="#c0c0c0"/>
<rect x="109" y="614" width="1" height="18" fill="#c0c0c0"/>
<rect x="117" y="614" width="1" height="24" fill="#c0c0c0"/>
<rect x="125" y="614" width="1" height="27" fill="#c0c0c0"/>
<rect x="133" y="614" width="1" height="32" fill="#c0c0c0"/>
<rect x="141" y="614" width="1" height="34" fill="#c0c0c0"/>
<rect x="149" y="614" width="1" height="33" fill="#c0c0c0"/>
<rect x="157" y="614" width="1" height="33" fill="#c0c0c0"/>
<rect x="165" y="614" width="1" height="33" fill="#c0c0c0"/>
<rect x="173" y="614" width="1" height="33" fill="#c0c0c0"/>
<rect x="181" y="614" width="1" height="29" fill="#c0c0c0"/>
<rect x="189" y="614" width="1" height="25" fill="#c0c0c0"/>
<rect x="197" y="614" width="1" height="21" fill="#c0c0c0"/>
<rect x="205" y="614" width="1" height="18" fill="#c0c0c0"/>
<rect x="213" y="614" width="1" height="13" fill="#c0c0c0"/>
<rect x="221" y="614" width="1" height="8" fill="#c0c0c0"/>
<rect x="229" y="614" width="1" height="5" fill="#c0c0c0"/>
<rect x="237" y="614" width="1" height="3" fill="#c0c0c0"/>
<rect x="245" y="614" width="1" height="1" fill="#c0c0c0"/>
<rect x="253" y="614" width="1" height="5" fill="#c0c0c0"/>
<rect x="261" y="614" width="1" height="7" fill="#c0c0c0"/>
<rect x="269" y="614" width="1" height="7" fill="#c0c0c0"/>
<rect x="277" y="614" width="1" height="10" fill="#c0c0c0"/>
<rect x="285" y="614" width="1" height="19" fill="#c0c0c0"/>
<rect x="293" y="614" width="1" height="26" fill="#c0c0c0"/>
<rect x="301" y="614" width="1" height="31" fill="#c0c0c0"/>
<rect x="309" y="614" width="1" height="34" fill="#c0c0c0"/>
<rect x="317" y="614" width="1" height="33" fill="#c0c0c0"/>
<rect x="325" y="614" width="1" height="30" fill="#c0c0c0"/>
<rect x="333" y="614" width="1" height="28" fill="#c0c0c0"/>
<rect x="341" y="614" width="1" height="28" fill="#c0c0c0"/>
<rect x="349" y="614" width="1" height="27" fill="#c0c0c0"/>
<rect x="357" y="614" width="1" height="26" fill="#c0c0c0"/>
<rect x="365" y="614" width="1" height="24" fill="#c0c0c0"/>
<rect x="373" y="614" width="1" height="23" fill="#c0c0c0"/>
<rect x="381" y="614" width="1" height="21" fill="#c0c0c0"/>
<rect x="389" y="614" width="1" height="17" fill="#c0c0c0"/>
<rect x="397" y="614" width="1" height="13" fill="#c0c0c0"/>
<rect x="405" y="614" width="1" height="10" fill="#c0c0c0"/>
<rect x="413" y="614" width="1" height="7" fill="#c0c0c0"/>
<rect x="421" y="614" width="1" height="8" fill="#c0c0c0"/>
<rect x="429" y="614" width="1" height="7" fill="#c0c0c0"/>
<rect x="437" y="614" width="1" height="10" fill="#c0c0c0"/>
<rect x="445" y="614" width="1" height="14" fill="#c0c0c0"/>
<rect x="453" y="614" width="1" height="15" fill="#c0c0c0"/>
<rect x="461" y="614" width="1" height="16" fill="#c0c0c0"/>
<rect x="469" y="614" width="1" height="17" fill="#c0c0c0"/>
<rect x="477" y="614" width="1" height="19" fill="#c0c0c0"/>
<rect x="485" y="614" width="1" height="17" fill="#c0c0c0"/>
<rect x="493" y="614" width="1" height="14" fill="#c0c0c0"/>
<rect x="501" y="614" width="1" height="11" fill="#c0c0c0"/>
<rect x="509" y="614" width="1" height="10" fill="#c0c0c0"/>
<rect x="517" y="614" width="1" height="11" fill="#c0c0c0"/>
<rect x="525" y="614" width="1" height="14" fill="#c0c0c0"/>
<rect x="533" y="614" width="1" height="18" fill="#c0c0c0"/>
<rect x="541" y="614" width="1" height="16" fill="#c0c0c0"/>
<rect x="549" y="614" width="1" height="15" fill="#c0c0c0"/>
<rect x="557" y="614" width="1" height="7" fill="#c0c0c0"/>
<rect x="565" y="614" width="1" height="1" fill="#c0c0c0"/>
<rect x="573" y="611" width="1" height="4" fill="#c0c0c0"/>
<rect x="581" y="604" width="1" height="11" fill="#c0c0c0"/>
<rect x="589" y="594" width="1" height="21" fill="#c0c0c0"/>
<rect x="597" y="588" width="1" height="27" fill="#c0c0c0"/>
<rect x="605" y="584" width="1" height="31" fill="#c0c0c0"/>
<rect x="613" y="580" width="1" height="35" fill="#c0c0c0"/>
<rect x="621" y="580" width="1" height="35" fill="#c0c0c0"/>
<rect x="629" y="582" width="1" height="33" fill="#c0c0c0"/>
<rect x="637" y="590" width="1" height="25" fill="#c0c0c0"/>
<rect x="645" y="595" width="1" height="20" fill="#c0c0c0"/>
<rect x="653" y="599" width="1" height="16" fill="#c0c0c0"/>
<rect x="661" y="605" width="1" height="10" fill="#c0c0c0"/>
<rect x="669" y="606" width="1" height="9" fill="#c0c0c0"/>
<rect x="677" y="602" width="1" height="13" fill="#c0c0c0"/>
<rect x="685" y="593" width="1" height="22" fill="#c0c0c0"/>
<rect x="693" y="584" width="1" height="31" fill="#c0c0c0"/>
<rect x="701" y="577" width="1" height="38" fill="#c0c0c0"/>
<rect x="709" y="574" width="1" height="41" fill="#c0c0c0"/>
<rect x="717" y="571" width="1" height="44" fill="#c0c0c0"/>
<rect x="725" y="570" width="1" height="45" fill="#c0c0c0"/>
<rect x="733" y="570" width="1" height="45" fill="#c0c0c0"/>
<rect x="741" y="571" width="1" height="44" fill="#c0c0c0"/>
<rect x="749" y="579" width="1" height="36" fill="#c0c0c0"/>
<rect x="757" y="585" width="1" height="30" fill="#c0c0c0"/>
<rect x="765" y="590" width="1" height="25" fill="#c0c0c0"/>
<rect x="773" y="595" width="1" height="20" fill="#c0c0c0"/>
<rect x="781" y="605" width="1" height="10" fill="#c0c0c0"/>
<rect x="789" y="612" width="1" height="3" fill="#c0c0c0"/>
<rect x="797" y="614" width="1" height="5" fill="#c0c0c0"/>
<rect x="805" y="614" width="1" height="11" fill="#c0c0c0"/>
<rect x="813" y="614" width="1" height="11" fill="#c0c0c0"/>
<rect x="821" y="614" width="1" height="12" fill="#c0c0c0"/>
<rect x="829" y="614" width="1" height="10" fill="#c0c0c0"/>
<rect x="837" y="614" width="1" height="9" fill="#c0c0c0"/>
<rect x="845" y="614" width="1" height="9" fill="#c0c0c0"/>
<rect x="853" y="614" width="1" height="13" fill="#c0c0c0"/>
<rect x="861" y="614" width="1" height="14" fill="#c0c0c0"/>
<rect x="869" y="614" width="1" height="13" fill="#c0c0c0"/>
<rect x="877" y="614" width="1" height="15" fill="#c0c0c0"/>
<rect x="885" y="614" width="1" height="16" fill="#c0c0c0"/>
<rect x="893" y="614" width="1" height="19" fill="#c0c0c0"/>
<rect x="901" y="614" width="1" height="25" fill="#c0c0c0"/>
<rect x="909" y="614" width="1" height="30" fill="#c0c0c0"/>
<rect x="917" y="614" width="1" height="34" fill="#c0c0c0"/>
<rect x="925" y="614" width="1" height="38" fill="#c0c0c0"/>
<rect x="933" y="614" width="1" height="40" fill="#c0c0c0"/>
<rect x="941" y="614" width="1" height="40" fill="#c0c0c0"/>
<rect x="949" y="614" width="1" height="39" fill="#c0c0c0"/>
<rect x="957" y="614" width="1" height="45" fill="#c0c0c0"/>
<rect x="965" y="614" width="1" height="48" fill="#c0c0c0"/>
<rect x="973" y="614" width="1" height="48" fill="#c0c0c0"/>
<rect x="981" y="614" width="1" height="47" fill="#c0c0c0"/>
<rect x="989" y="614" width="1" height="34" fill="#c0c0c0"/>
<rect x="997" y="614" width="1" height="27" fill="#c0c0c0"/>
<rect x="1005" y="614" width="1" height="21" fill="#c0c0c0"/>
<rect x="1013" y="614" width="1" height="18" fill="#c0c0c0"/>
<rect x="1021" y="614" width="1" height="13" fill="#c0c0c0"/>
<rect x="1029" y="614" width="1" height="10" fill="#c0c0c0"/>
<rect x="1037" y="614" width="1" height="6" fill="#c0c0c0"/>
<rect x="1045" y="614" width="1" height="6" fill="#c0c0c0"/>
<rect x="1053" y="614" width="1" height="9" fill="#c0c0c0"/>
<rect x="1061" y="614" width="1" height="15" fill="#c0c0c0"/>
<rect x="1069" y="614" width="1" height="20" fill="#c0c0c0"/>
<rect x="1077" y="614" width="1" height="24" fill="#c0c0c0"/>
<rect x="1085" y="614" width="1" height="28" fill="#c0c0c0"/>
<rect x="1093" y="614" width="1" height="29" fill="#c0c0c0"/>
<rect x="1101" y="614" width="1" height="31" fill="#c0c0c0"/>
<rect x="1109" y="614" width="1" height="32" fill="#c0c0c0"/>
<rect x="1117" y="614" width="1" height="33" fill="#c0c0c0"/>
<polyline points="5.5,635.5 13.5,637.5 21.5,638.5 29.5,638.5 37.5,638.5 45.5,636.5 53.5,632.5 61.5,628.5 69.5,624.5 77.5,622.5 85.5,620.5 93.5,618.5 101.5,617.5 109.5,618.5 117.5,620.5 125.5,623.5 133.5,627.5 141.5,631.5 149.5,634.5 157.5,638.5 165.5,640.5 173.5,643.5 181.5,644.5 189.5,644.5 197.5,643.5 205.5,642.5 213.5,639.5 221.5,637.5 229.5,634.5 237.5,630.5 245.5,627.5 253.5,624.5 261.5,622.5 269.5,621.5 277.5,620.5 285.5,620.5 293.5,622.5 301.5,625.5 309.5,629.5 317.5,632.5 325.5,635.5 333.5,637.5 341.5,640.5 349.5,641.5 357.5,642.5 365.5,642.5 373.5,641.5 381.5,640.5 389.5,638.5 397.5,636.5 405.5,634.5 413.5,632.5 421.5,630.5 429.5,627.5 437.5,626.5 445.5,625.5 453.5,624.5 461.5,624.5 469.5,625.5 477.5,626.5 485.5,627.5 493.5,627.5 501.5,628.5 509.5,628.5 517.5,627.5 525.5,627.5 533.5,627.5 541.5,627.5 549.5,627.5 557.5,626.5 565.5,624.5 573.5,623.5 581.5,621.5 589.5,618.5 597.5,613.5 605.5,608.5 613.5,603.5 621.5,597.5 629.5,593.5 637.5,590.5 645.5,589.5 653.5,588.5 661.5,589.5 669.5,591.5 677.5,593.5 685.5,595.5 693.5,595.5 701.5,595.5 709.5,593.5 717.5,590.5 725.5,587.5 733.5,583.5 741.5,579.5 749.5,576.5 757.5,576.5 765.5,576.5 773.5,578.5 781.5,582.5 789.5,586.5 797.5,592.5 805.5,598.5 813.5,604.5 821.5,609.5 829.5,613.5 837.5,616.5 845.5,619.5 853.5,622.5 861.5,624.5 869.5,624.5 877.5,625.5 885.5,625.5 893.5,626.5 901.5,628.5 909.5,630.5 917.5,633.5 925.5,635.5 933.5,638.5 941.5,641.5 949.5,644.5 957.5,647.5 965.5,651.5 973.5,653.5 981.5,655.5 989.5,655.5 997.5,654.5 1005.5,652.5 1013.5,649.5 1021.5,646.5 1029.5,643.5 1037.5,638.5 1045.5,633.5 1053.5,629.5 1061.5,627.5 1069.5,626.5 1077.5,627.5 1085.5,628.5 1093.5,629.5 1101.5,632.5 1109.5,635.5 1117.5,638.5" fill="none" stroke="#ff0000" stroke-width="1" stroke-dasharray="3,3"/>
</g>
<rect x="1421" y="565" width="2" height="1" fill="#000"/>
<rect x="1421" y="614" width="2" height="1" fill="#000"/>
<rect x="1421" y="666" width="2" height="1" fill="#000"/>
<text x="1424.10" y="575" font-size="10" fill="#000" textLength="37.55" lengthAdjust="spacingAndGlyphs" stroke="#000" stroke-width="0.3">0.004517</text>
<text x="1424.10" y="618" font-size="10" fill="#000" textLength="17.33" lengthAdjust="spacingAndGlyphs" stroke="#000" stroke-width="0.3">0.00</text>
<text x="1424.10" y="664" font-size="10" fill="#000" textLength="40.64" lengthAdjust="spacingAndGlyphs" stroke="#000" stroke-width="0.3">-0.004806</text>
<text x="8.36" y="577" font-size="10" fill="#000" textLength="154.74" lengthAdjust="spacingAndGlyphs" stroke="#000" stroke-width="0.3">MACD(12,26,9) -0.003000 -0.002193</text>
<g clip-path="url(#crsi)">
<line x1="6" y1="709.5" x2="1419" y2="709.5" stroke="#c0c0c0" stroke-dasharray="3,3"/>
<line x1="6" y1="760.5" x2="1419" y2="760.5" stroke="#c0c0c0" stroke-dasharray="3,3"/>
<polyline points="5.5,732.5 13.5,736.5 21.5,734.5 29.5,734.5 37.5,731.5 45.5,728.5 53.5,717.5 61.5,727.5 69.5,740.5 77.5,740.5 85.5,736.5 93.5,742.5 101.5,745.5 109.5,748.5 117.5,750.5 125.5,748.5 133.5,751.5 141.5,751.5 149.5,742.5 157.5,745.5 165.5,746.5 173.5,746.5 181.5,737.5 189.5,735.5 197.5,733.5 205.5,736.5 213.5,729.5 221.5,728.5 229.5,727.5 237.5,733.5 245.5,729.5 253.5,744.5 261.5,740.5 269.5,737.5 277.5,744.5 285.5,754.5 293.5,757.5 301.5,752.5 309.5,753.5 317.5,744.5 325.5,738.5 333.5,740.5 341.5,745.5 349.5,740.5 357.5,742.5 365.5,738.5 373.5,741.5 381.5,739.5 389.5,734.5 397.5,731.5 405.5,730.5 413.5,731.5 421.5,738.5 429.5,737.5 437.5,745.5 445.5,748.5 453.5,746.5 461.5,745.5 469.5,746.5 477.5,748.5 485.5,738.5 493.5,731.5 501.5,732.5 509.5,736.5 517.5,743.5 525.5,750.5 533.5,751.5 541.5,738.5 549.5,738.5 557.5,722.5 565.5,720.5 573.5,727.5 581.5,719.5 589.5,710.5 597.5,715.5 605.5,718.5 613.5,715.5 621.5,724.5 629.5,727.5 637.5,740.5 645.5,738.5 653.5,737.5 661.5,741.5 669.5,734.5 677.5,725.5 685.5,716.5 693.5,714.5 701.5,712.5 709.5,719.5 717.5,718.5 725.5,719.5 733.5,718.5 741.5,722.5 749.5,736.5 757.5,736.5 765.5,737.5 773.5,737.5 781.5,748.5 789.5,747.5 797.5,749.5 805.5,750.5 813.5,738.5 821.5,739.5 829.5,735.5 837.5,735.5 845.5,737.5 853.5,746.5 861.5,742.5 869.5,735.5 877.5,743.5 885.5,743.5 893.5,745.5 901.5,754.5 909.5,755.5 917.5,754.5 925.5,757.5 933.5,756.5 941.5,752.5 949.5,747.5 957.5,760.5 965.5,758.5 973.5,750.5 981.5,750.5 989.5,725.5 997.5,731.5 1005.5,732.5 1013.5,735.5 1021.5,731.5 1029.5,731.5 1037.5,729.5 1045.5,737.5 1053.5,743.5 1061.5,748.5 1069.5,750.5 1077.5,750.5 1085.5,752.5 1093.5,748.5 1101.5,749.5 1109.5,750.5 1117.5,751.5" fill="none" stroke="#1e90ff" stroke-width="1"/>
</g>
<rect x="1421" y="671" width="2" height="1" fill="#000"/>
<rect x="1421" y="798" width="2" height="1" fill="#000"/>
<text x="1422.54" y="681" font-size="10" fill="#000" textLength="16.06" lengthAdjust="spacingAndGlyphs" stroke="#000" stroke-width="0.3">100</text>
<text x="1422.57" y="713" font-size="10" fill="#000" textLength="10.35" lengthAdjust="spacingAndGlyphs" stroke="#000" stroke-width="0.3">70</text>
<text x="1423.50" y="764" font-size="10" fill="#000" textLength="9.41" lengthAdjust="spacingAndGlyphs" stroke="#000" stroke-width="0.3">30</text>
<text x="1424.00" y="796" font-size="10" fill="#000" textLength="4.64" lengthAdjust="spacingAndGlyphs" stroke="#000" stroke-width="0.3">0</text>
<text x="8.47" y="682" font-size="10" fill="#000" textLength="68.60" lengthAdjust="spacingAndGlyphs" stroke="#000" stroke-width="0.3">RSI(14) 36.6194</text>
<rect x="5" y="800" width="1" height="3" fill="#000"/>
<text x="3.87" y="812" font-size="10" fill="#000" textLength="52.28" lengthAdjust="spacingAndGlyphs" stroke="#000" stroke-width="0.3">13 Mar 2019</text>
<rect x="69" y="800" width="1" height="3" fill="#000"/>
<text x="68.30" y="812" font-size="10" fill="#000" textLength="51.94" lengthAdjust="spacingAndGlyphs" stroke="#000" stroke-width="0.3">22 Mar 2019</text>
<rect x="133" y="800" width="1" height="3" fill="#000"/>
<text x="131.43" y="812" font-size="10" fill="#000" textLength="47.14" lengthAdjust="spacingAndGlyphs" stroke="#000" stroke-width="0.3">1 Apr 2019</text>
<rect x="197" y="800" width="1" height="3" fill="#000"/>
<text x="195.65" y="812" font-size="10" fill="#000" textLength="50.99" lengthAdjust="spacingAndGlyphs" stroke="#000" stroke-width="0.3">10 Apr 2019</text>
<rect x="261" y="800" width="1" height="3" fill="#000"/>
<text x="260.30" y="812" font-size="10" fill="#000" textLength="50.44" lengthAdjust="spacingAndGlyphs" stroke="#000" stroke-width="0.3">21 Apr 2019</text>
<rect x="325" y="800" width="1" height="3" fill="#000"/>
<text x="323.80" y="812" font-size="10" fill="#000" textLength="51.14" lengthAdjust="spacingAndGlyphs" stroke="#000" stroke-width="0.3">30 Apr 2019</text>
<rect x="389" y="800" width="1" height="3" fill="#000"/>
<text x="387.90" y="812" font-size="10" fill="#000" textLength="50.36" lengthAdjust="spacingAndGlyphs" stroke="#000" stroke-width="0.3">9 May 2019</text>
<rect x="453" y="800" width="1" height="3" fill="#000"/>
<text x="451.14" y="812" font-size="10" fill="#000" textLength="55.70" lengthAdjust="spacingAndGlyphs" stroke="#000" stroke-width="0.3">19 May 2019</text>
<rect x="517" y="800" width="1" height="3" fill="#000"/>
<text x="515.80" y="812" font-size="10" fill="#000" textLength="54.44" lengthAdjust="spacingAndGlyphs" stroke="#000" stroke-width="0.3">28 May 2019</text>
<rect x="581" y="800" width="1" height="3" fill="#000"/>
<text x="579.80" y="812" font-size="10" fill="#000" textLength="45.56" lengthAdjust="spacingAndGlyphs" stroke="#000" stroke-width="0.3">6 Jun 2019</text>
<rect x="645" y="800" width="1" height="3" fill="#000"/>
<text x="643.49" y="812" font-size="10" fill="#000" textLength="50.07" lengthAdjust="spacingAndGlyphs" stroke="#000" stroke-width="0.3">16 Jun 2019</text>
<rect x="709" y="800" width="1" height="3" fill="#000"/>
<text x="708.20" y="812" font-size="10" fill="#000" textLength="49.56" lengthAdjust="spacingAndGlyphs" stroke="#000" stroke-width="0.3">25 Jun 2019</text>
<rect x="773" y="800" width="1" height="3" fill="#000"/>
<text x="772.10" y="812" font-size="10" fill="#000" textLength="41.94" lengthAdjust="spacingAndGlyphs" stroke="#000" stroke-width="0.3">4 Jul 2019</text>
<rect x="837" y="800" width="1" height="3" fill="#000"/>
<text x="835.80" y="812" font-size="10" fill="#000" textLength="46.65" lengthAdjust="spacingAndGlyphs" stroke="#000" stroke-width="0.3">14 Jul 2019</text>
<rect x="901" y="800" width="1" height="3" fill="#000"/>
<text x="900.20" y="812" font-size="10" fill="#000" textLength="46.15" lengthAdjust="spacingAndGlyphs" stroke="#000" stroke-width="0.3">23 Jul 2019</text>
<rect x="965" y="800" width="1" height="3" fill="#000"/>
<text x="963.33" y="812" font-size="10" fill="#000" textLength="48.96" lengthAdjust="spacingAndGlyphs" stroke="#000" stroke-width="0.3">1 Aug 2019</text>
<rect x="1029" y="800" width="1" height="3" fill="#000"/>
<text x="1027.74" y="812" font-size="10" fill="#000" textLength="53.28" lengthAdjust="spacingAndGlyphs" stroke="#000" stroke-width="0.3">11 Aug 2019</text>
<rect x="1093" y="800" width="1" height="3" fill="#000"/>
<text x="1092.20" y="812" font-size="10" fill="#000" textLength="52.76" lengthAdjust="spacingAndGlyphs" stroke="#000" stroke-width="0.3">20 Aug 2019</text>
<rect x="11" y="30" width="1" height="1" fill="#000"/>
<rect x="10" y="31" width="3" height="1" fill="#000"/>
<rect x="9" y="32" width="5" height="1" fill="#000"/>
<rect x="8" y="33" width="7" height="1" fill="#000"/>
<text x="19.16" y="35" font-size="10" fill="#000" textLength="66.43" lengthAdjust="spacingAndGlyphs" stroke="#000" stroke-width="0.3">EURUSD-,Daily</text>
<text x="92.47" y="35" font-size="10" fill="#000" textLength="33.78" lengthAdjust="spacingAndGlyphs" stroke="#000" stroke-width="0.3">1.10829</text>
<text x="128.49" y="35" font-size="10" fill="#000" textLength="33.06" lengthAdjust="spacingAndGlyphs" stroke="#000" stroke-width="0.3">1.10846</text>
<text x="163.66" y="35" font-size="10" fill="#000" textLength="33.88" lengthAdjust="spacingAndGlyphs" stroke="#000" stroke-width="0.3">1.10750</text>
<text x="199.76" y="35" font-size="10" fill="#000" textLength="33.88" lengthAdjust="spacingAndGlyphs" stroke="#000" stroke-width="0.3">1.10752</text>
<rect x="6" y="41" width="223" height="68" fill="#ffffff"/>
<rect x="8" y="67" width="109" height="40" fill="url(#gLow)"/>
<rect x="119" y="67" width="108" height="40" fill="url(#gLow)"/>
<rect x="8" y="43" width="52" height="24" fill="url(#gUp)"/>
<rect x="175" y="43" width="52" height="24" fill="url(#gUp)"/>
<rect x="8" y="43" width="52" height="1" fill="#b80000"/>
<rect x="8" y="43" width="1" height="24" fill="#b80000"/>
<rect x="59" y="43" width="1" height="24" fill="#b80000"/>
<rect x="175" y="43" width="52" height="1" fill="#b80000"/>
<rect x="175" y="43" width="1" height="24" fill="#b80000"/>
<rect x="226" y="43" width="1" height="24" fill="#b80000"/>
<rect x="59" y="67" width="58" height="1" fill="#b80000"/>
<rect x="119" y="67" width="57" height="1" fill="#b80000"/>
<rect x="12" y="66" width="45" height="1" fill="#7a0000"/>
<rect x="12" y="67" width="45" height="1" fill="#ff6a6a"/>
<rect x="179" y="66" width="45" height="1" fill="#7a0000"/>
<rect x="179" y="67" width="45" height="1" fill="#ff6a6a"/>
<text x="20.20" y="59" font-size="12" fill="#fff0f0" textLength="26.12" lengthAdjust="spacingAndGlyphs">SELL</text>
<text x="187.60" y="59" font-size="12" fill="#fff0f0" textLength="24.58" lengthAdjust="spacingAndGlyphs">BUY</text>
<rect x="62" y="43" width="111" height="22" fill="#a4a8b0"/>
<rect x="63" y="44" width="109" height="20" fill="#ffffff"/>
<rect x="64" y="45" width="18" height="18" fill="url(#gBtn)"/>
<rect x="153" y="45" width="18" height="18" fill="url(#gBtn)"/>
<rect x="83" y="44" width="1" height="20" fill="#a4a8b0"/>
<rect x="151" y="44" width="1" height="20" fill="#a4a8b0"/>
<polygon points="69.5,52 75.5,52 72.5,55" fill="#4a62c8"/>
<polygon points="158.5,55 164.5,55 161.5,52" fill="#4a62c8"/>
<text x="123.76" y="58" font-size="12" fill="#000" textLength="24.31" lengthAdjust="spacingAndGlyphs">1.00</text>
<text x="28.50" y="98" font-size="12" fill="#fff" textLength="23.87" lengthAdjust="spacingAndGlyphs" font-weight="bold">1.10</text>
<text x="55.06" y="97" font-size="33" fill="#fff" textLength="34.62" lengthAdjust="spacingAndGlyphs" stroke="url(#gLowU)" stroke-width="0.5">75</text>
<text x="95.40" y="82" font-size="13" fill="#fff" textLength="6.72" lengthAdjust="spacingAndGlyphs" font-weight="bold">2</text>
<text x="138.40" y="98" font-size="12" fill="#fff" textLength="23.26" lengthAdjust="spacingAndGlyphs" font-weight="bold">1.10</text>
<text x="165.82" y="97" font-size="33" fill="#fff" textLength="35.88" lengthAdjust="spacingAndGlyphs" stroke="url(#gLowU)" stroke-width="0.5">76</text>
<text x="206.00" y="82" font-size="13" fill="#fff" textLength="6.82" lengthAdjust="spacingAndGlyphs" font-weight="bold">9</text>
<rect x="6" y="821" width="108" height="20" fill="#ffffff"/>
<rect x="6" y="822" width="1" height="19" fill="#000"/>
<rect x="113" y="822" width="1" height="19" fill="#000"/>
<rect x="6" y="840" width="108" height="1" fill="#000"/>
<rect x="7" y="821" width="106" height="1" fill="#ffffff"/>
<text x="16.60" y="837" font-size="12" fill="#000" textLength="85.09" lengthAdjust="spacingAndGlyphs">EURUSD-,Daily</text>
<text x="123.90" y="837" font-size="12" fill="#6d6d6d" textLength="86.68" lengthAdjust="spacingAndGlyphs">AUDUSD-,Daily</text>
<text x="233.80" y="837" font-size="12" fill="#6d6d6d" textLength="83.80" lengthAdjust="spacingAndGlyphs">USDCHF-,Daily</text>
<text x="340.28" y="837" font-size="12" fill="#6d6d6d" textLength="86.10" lengthAdjust="spacingAndGlyphs">USDCAD-,Daily</text>
<text x="449.46" y="837" font-size="12" fill="#6d6d6d" textLength="88.49" lengthAdjust="spacingAndGlyphs">USDCNH-,Daily</text>
<text x="560.40" y="837" font-size="12" fill="#6d6d6d" textLength="96.55" lengthAdjust="spacingAndGlyphs">EURCHF-,Weekly</text>
<text x="681.90" y="837" font-size="12" fill="#6d6d6d" textLength="99.55" lengthAdjust="spacingAndGlyphs">XAUUSD-,Weekly</text>
<text x="805.00" y="837" font-size="12" fill="#6d6d6d" textLength="72.35" lengthAdjust="spacingAndGlyphs">GBPUSD-,H1</text>
<text x="899.94" y="837" font-size="12" fill="#6d6d6d" textLength="57.48" lengthAdjust="spacingAndGlyphs">UKOil-,H1</text>
<text x="978.95" y="837" font-size="12" fill="#6d6d6d" textLength="83.84" lengthAdjust="spacingAndGlyphs">USDX-,Weekly</text>
<rect x="222" y="825" width="1" height="14" fill="#6d6d6d"/>
<rect x="330" y="825" width="1" height="14" fill="#6d6d6d"/>
<rect x="438" y="825" width="1" height="14" fill="#6d6d6d"/>
<rect x="550" y="825" width="1" height="14" fill="#6d6d6d"/>
<rect x="670" y="825" width="1" height="14" fill="#6d6d6d"/>
<rect x="794" y="825" width="1" height="14" fill="#6d6d6d"/>
<rect x="891" y="825" width="1" height="14" fill="#6d6d6d"/>
<rect x="970" y="825" width="1" height="14" fill="#6d6d6d"/>
<rect x="1074" y="825" width="1" height="14" fill="#6d6d6d"/>
<rect x="1438" y="828" width="1" height="6" fill="#999"/>
<rect x="1437" y="829" width="1" height="4" fill="#999"/>
<rect x="1436" y="830" width="1" height="2" fill="#999"/>
<rect x="1455" y="828" width="1" height="6" fill="#999"/>
<rect x="1456" y="829" width="1" height="4" fill="#999"/>
<rect x="1457" y="830" width="1" height="2" fill="#999"/>
</svg>
</body></html>
